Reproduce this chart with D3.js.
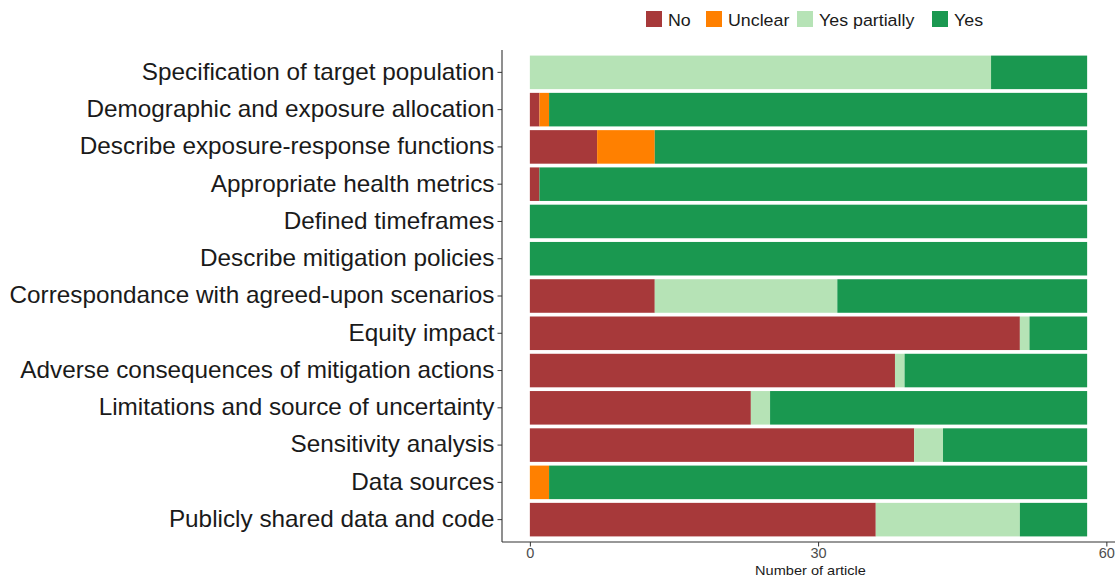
<!DOCTYPE html>
<html><head><meta charset="utf-8">
<script src="https://cdn.jsdelivr.net/npm/d3@7"></script>
<style>body{margin:0;background:#fff}</style>
</head><body><svg id="c" width="1118" height="579"></svg>
<script>
const categories = ["Specification of target population","Demographic and exposure allocation","Describe exposure-response functions","Appropriate health metrics","Defined timeframes","Describe mitigation policies","Correspondance with agreed-upon scenarios","Equity impact","Adverse consequences of mitigation actions","Limitations and source of uncertainty","Sensitivity analysis","Data sources","Publicly shared data and code"];
const seriesNames = ["No","Unclear","Yes partially","Yes"];
const noVals      = [0, 1, 7, 1, 0, 0, 13, 51, 38, 23, 40, 0, 36];
const unclearVals = [0, 1, 6, 0, 0, 0, 0, 0, 0, 0, 0, 2, 0];
const partialVals = [48, 0, 0, 0, 0, 0, 19, 1, 1, 2, 3, 0, 15];
const yesVals     = [10, 56, 45, 57, 58, 58, 26, 6, 19, 33, 15, 56, 7];
const xTicks = [0, 30, 60];
const colors = ["#A7393A","#FF8000","#B6E3B6","#1A9850"];

const FONT = "Liberation Sans, Arial, sans-serif";
const rows = categories.map((c,i)=>({cat:c, No:noVals[i], Unclear:unclearVals[i], "Yes partially":partialVals[i], Yes:yesVals[i]}));
const stack = d3.stack().keys(seriesNames)(rows);

const svg = d3.select("#c");
const L = 502, R = 1115, T = 50, B = 542;
const x = d3.scaleLinear().domain([-2.9, 60.9]).range([L, R]);
const y = d3.scaleBand().domain(categories).range([T, B]).paddingInner(0.1).paddingOuter(0.15);
const color = d3.scaleOrdinal().domain(seriesNames).range(colors);

svg.append("g").selectAll("g").data(stack).join("g")
  .attr("fill", d=>color(d.key))
  .selectAll("rect").data(d=>d.filter(s=>s[1]-s[0]>0)).join("rect")
  .attr("x", d=>x(d[0])).attr("width", d=>x(d[1])-x(d[0]))
  .attr("y", d=>y(d.data.cat)).attr("height", y.bandwidth());

// y axis
const ya = svg.append("g").attr("transform",`translate(${L},0)`)
  .call(d3.axisLeft(y).tickSize(4.5).tickPadding(3));
ya.select(".domain").attr("d", `M0,${T}V${B}`).attr("stroke","#333").attr("stroke-width",1.1);
ya.selectAll(".tick line").attr("stroke","#333");
ya.selectAll("text").attr("font-family",FONT).attr("font-size",23).attr("fill","#1a1a1a")
  .attr("x", null).attr("transform","translate(-7.5,0) scale(1.057,1)");

// x axis
const xa = svg.append("g").attr("transform",`translate(0,${B})`)
  .call(d3.axisBottom(x).tickValues(xTicks).tickSize(4.5).tickPadding(1.5));
xa.select(".domain").attr("d", `M${L},0H${R}`).attr("stroke","#333").attr("stroke-width",1.1);
xa.selectAll(".tick line").attr("stroke","#333");
xa.selectAll("text").attr("font-family",FONT).attr("font-size",14.5).attr("fill","#4d4d4d");

svg.append("text").attr("transform", `translate(${(L+R)/2 + 2},575) scale(1.12,1)`).attr("text-anchor","middle")
  .attr("font-family",FONT).attr("font-size",13).attr("fill","#1a1a1a").text("Number of article");

// legend
const legX = [646, 706, 797, 932];
const lg = svg.append("g");
seriesNames.forEach((s,i)=>{
  lg.append("rect").attr("x",legX[i]).attr("y",11).attr("width",16).attr("height",16).attr("fill",color(s));
  lg.append("text").attr("transform",`translate(${legX[i]+22},26) scale(1.08,1)`).attr("font-family",FONT)
    .attr("font-size",16.5).attr("fill","#1a1a1a").text(s);
});
</script></body></html>
